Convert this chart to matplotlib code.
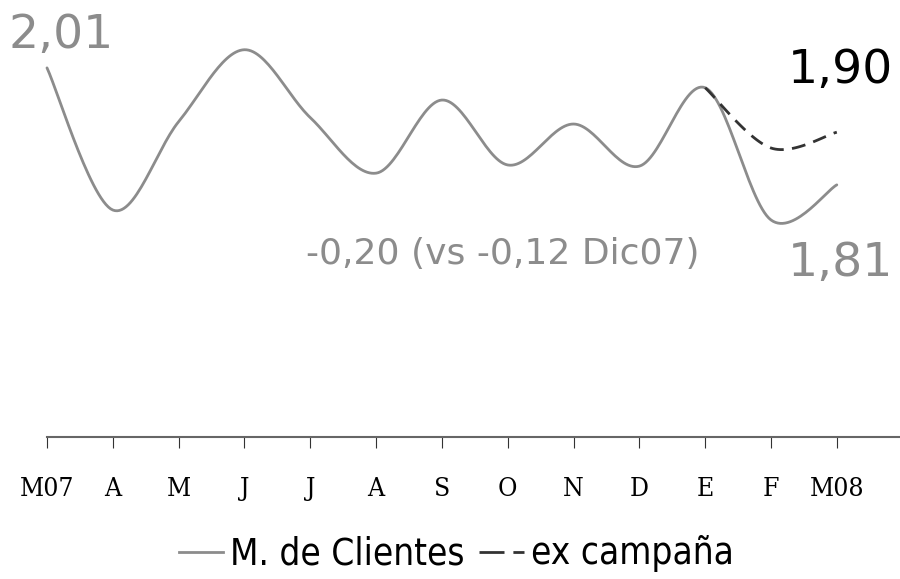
import numpy as np
import matplotlib

matplotlib.use("Agg")
import matplotlib.pyplot as plt
from matplotlib.lines import Line2D

# ---------------------------------------------------------------------------
# Data
# ---------------------------------------------------------------------------
months = ["M07", "A", "M", "J", "J", "A", "S", "O", "N", "D", "E", "F", "M08"]
clientes = [2.01, 1.767, 1.918, 2.041, 1.925, 1.830, 1.955, 1.844, 1.914,
            1.842, 1.976, 1.750, 1.81]
ex_campana_idx = [10, 11, 12]          # E, F, M08
ex_campana = [1.976, 1.873, 1.90]

GREY = "#8c8c8c"
DARK = "#333333"


def smooth(xs, ys, n=30):
    """Catmull-Rom smoothing (like Excel's 'smoothed line')."""
    xs = np.asarray(xs, float)
    ys = np.asarray(ys, float)
    px = np.concatenate([[xs[0]], xs, [xs[-1]]])
    py = np.concatenate([[ys[0]], ys, [ys[-1]]])
    out_x, out_y = [], []
    t = np.linspace(0, 1, n, endpoint=False)
    for i in range(1, len(px) - 2):
        p0, p1, p2, p3 = (np.array([px[j], py[j]]) for j in range(i - 1, i + 3))
        c1 = p1 + (p2 - p0) / 6.0
        c2 = p2 - (p3 - p1) / 6.0
        b = ((1 - t) ** 3)[:, None] * p1 + (3 * (1 - t) ** 2 * t)[:, None] * c1 \
            + (3 * (1 - t) * t ** 2)[:, None] * c2 + (t ** 3)[:, None] * p2
        out_x.extend(b[:, 0])
        out_y.extend(b[:, 1])
    out_x.append(xs[-1])
    out_y.append(ys[-1])
    return np.array(out_x), np.array(out_y)


fig = plt.figure(figsize=(9, 5.79), dpi=100)
ax = fig.add_axes([0, 1 - 437 / 579, 1, 437 / 579])

x = np.arange(len(months))
sx, sy = smooth(x, clientes)
ax.plot(sx, sy, color=GREY, lw=2.0, solid_capstyle="round")

ex_x, ex_y = smooth(ex_campana_idx, ex_campana)
ax.plot(ex_x, ex_y, color=DARK, lw=2.0, dashes=(5, 3))

ax.set_xlim(-0.714, 12.96)
ax.set_ylim(1.379, 2.126)

for s in ["top", "right", "left"]:
    ax.spines[s].set_visible(False)
ax.spines["bottom"].set_color("#666666")
ax.spines["bottom"].set_linewidth(1.5)
ax.spines["bottom"].set_bounds(0, 12.96)
ax.set_yticks([])
ax.set_xticks(x)
ax.set_xticklabels(months, fontsize=19, family="DejaVu Serif",
                   fontstretch="condensed")
ax.tick_params(axis="x", direction="out", length=8, width=0.8,
               color="#333333", pad=20)
ax.patch.set_visible(False)

# annotations
ax.text(-0.58, 2.01 + 0.056, "2,01", color=GREY, ha="left", va="center",
        family="DejaVu Sans", fontsize=34)
ax.text(12.85, 1.90 + 0.105, "1,90", color="black", ha="right", va="center",
        family="DejaVu Sans", fontsize=34)
ax.text(12.85, 1.81 - 0.135, "1,81", color=GREY, ha="right", va="center",
        family="DejaVu Sans", fontsize=34)
ax.text(6.93, 1.81 - 0.118, "-0,20 (vs -0,12 Dic07)", color=GREY,
        ha="center", va="center", family="DejaVu Sans", fontsize=26)

handles = [Line2D([], [], color=GREY, lw=2.0),
           Line2D([], [], color=DARK, lw=2.0, dashes=(9, 3.2))]
fig.legend(handles, ["M. de Clientes", "ex campaña"], loc="center",
           bbox_to_anchor=(0.507, 1 - 554 / 579), ncol=2, frameon=False,
           prop=dict(family="DejaVu Sans", stretch="condensed", size=26.5),
           handlelength=1.2, handletextpad=0.2, columnspacing=0.4)

fig.savefig("out.png", dpi=100)
